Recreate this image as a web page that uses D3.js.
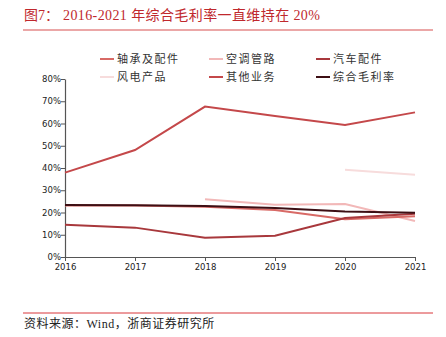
<!DOCTYPE html>
<html><head><meta charset="utf-8">
<script src="https://cdn.jsdelivr.net/npm/d3@7"></script>
<style>body{margin:0;background:#fff}svg{display:block}</style>
</head><body>
<svg id="c" width="446" height="337"></svg>
<script>
const years = [2016, 2017, 2018, 2019, 2020, 2021];
const yTicks = [0, 10, 20, 30, 40, 50, 60, 70, 80];
const seriesNames = ["轴承及配件", "空调管路", "汽车配件", "风电产品", "其他业务", "综合毛利率"];
const bearing = [23.2, 23.1, 22.6, 21.1, 17.0, 18.3];
const aircon = [null, null, 26.0, 23.5, 23.8, 16.2];
const auto = [14.5, 13.2, 8.7, 9.6, 17.5, 19.4];
const wind = [null, null, null, null, 39.2, 37.0];
const other = [37.9, 48.1, 67.6, 63.4, 59.3, 65.0];
const total = [23.4, 23.3, 22.9, 22.0, 20.5, 19.9];
const colors = ["#d86a66", "#f2b8b8", "#a8383c", "#f7dcdc", "#c4484a", "#3d0f14"];
const allSeries = [bearing, aircon, auto, wind, other, total];
const drawOrder = [3, 1, 0, 2, 4, 5];

const svg = d3.select("#c");
const x = d3.scaleLinear().domain([2016, 2021]).range([65, 415]);
const y = d3.scaleLinear().domain([0, 80]).range([257, 79]);

// title
const title = svg.append("text").attr("y", 20)
  .attr("font-family", "'Liberation Serif','Noto Sans CJK SC',serif")
  .attr("font-size", 14).attr("fill", "#c0282d");
title.append("tspan").attr("x", 24).text("图7\uFF1A");
title.append("tspan").attr("x", 63).attr("letter-spacing", 0.4).text("2016-2021 年综合毛利率一直维持在 20%");
svg.append("line").attr("x1", 23).attr("x2", 433).attr("y1", 30).attr("y2", 30)
  .attr("stroke", "#e58a8a").attr("stroke-width", 1.5);

// axes
const yAxis = d3.axisLeft(y).tickValues(yTicks).tickFormat(d => d + "%").tickSize(4).tickSizeOuter(0);
const gy = svg.append("g").attr("transform", "translate(65,0)").call(yAxis);
const xAxis = d3.axisBottom(x).tickValues(years).tickFormat(d3.format("d")).tickSize(4).tickSizeOuter(0);
const gx = svg.append("g").attr("transform", "translate(0,257)").call(xAxis);
[gx, gy].forEach(g => {
  g.select(".domain").attr("stroke", "#555").attr("stroke-width", 1.2);
  g.selectAll(".tick line").attr("stroke", "#555");
  g.selectAll("text").attr("font-family", "'DejaVu Sans',Verdana,sans-serif").attr("font-size", 8.5).attr("fill", "#222");
});
gy.selectAll("text").attr("x", -4);
gx.selectAll("text").attr("y", 7);

// lines
const line = d3.line().defined(d => d.v != null).x(d => x(d.year)).y(d => y(d.v));
drawOrder.forEach(i => {
  const data = years.map((yr, j) => ({year: yr, v: allSeries[i][j]}));
  svg.append("path").datum(data).attr("d", line)
    .attr("fill", "none").attr("stroke", colors[i]).attr("stroke-width", 2);
});

// legend
const legX = [100, 209, 316];
const legY = [59, 77];
seriesNames.forEach((name, i) => {
  const lx = legX[i % 3], ly = legY[Math.floor(i / 3)];
  svg.append("line").attr("x1", lx).attr("x2", lx + 14).attr("y1", ly).attr("y2", ly)
    .attr("stroke", colors[i]).attr("stroke-width", 2);
  svg.append("text").attr("x", lx + 17).attr("y", ly + 4)
    .attr("font-family", "'Noto Sans CJK SC',sans-serif").attr("font-size", 11).attr("fill", "#333")
    .attr("letter-spacing", 1.5)
    .text(name);
});

// footer
svg.append("line").attr("x1", 23).attr("x2", 433).attr("y1", 313).attr("y2", 313)
  .attr("stroke", "#d9363a").attr("stroke-width", 1);
svg.append("text").attr("x", 24).attr("y", 328)
  .attr("font-family", "'Liberation Serif','Noto Sans CJK SC',serif")
  .attr("font-size", 12).attr("fill", "#222").attr("letter-spacing", 0.5)
  .text("资料来源\uFF1AWind\uFF0C浙商证券研究所");
</script>
</body></html>
